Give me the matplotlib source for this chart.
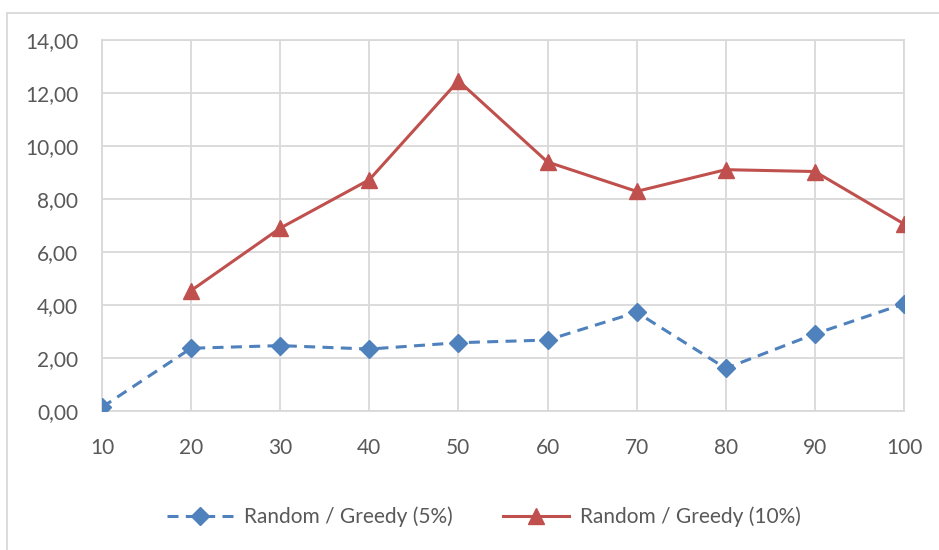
import matplotlib
matplotlib.use('Agg')
from matplotlib import pyplot as plt
from matplotlib.lines import Line2D

plt.rcParams['font.family'] = ['Lato', 'DejaVu Sans']

categories = ['10', '20', '30', '40', '50', '60', '70', '80', '90', '100']
greedy_5 = [0.13, 2.36, 2.46, 2.33, 2.57, 2.67, 3.72, 1.60, 2.90, 4.04]
greedy_10 = [None, 4.54, 6.90, 8.73, 12.47, 9.40, 8.29, 9.11, 9.04, 7.06]
y_ticks = [0, 2, 4, 6, 8, 10, 12, 14]

text_color = '#595959'
grid_color = '#d9d9d9'
blue = '#4f81bd'
red = '#c0504d'

fig = plt.figure(figsize=(9.39, 5.5), dpi=100)
ax = fig.add_axes([0.1086, 0.2533, 0.8541, 0.6734])

x = list(range(len(categories)))
ax.plot(x, greedy_5, color=blue, linestyle=(0, (3.6, 2.4)), linewidth=2.2,
        marker='D', markersize=9.5, label='Random / Greedy (5%)', zorder=3)
x10 = [i for i, v in zip(x, greedy_10) if v is not None]
y10 = [v for v in greedy_10 if v is not None]
ax.plot(x10, y10, color=red, linestyle='-', linewidth=2.2,
        marker='^', markersize=11.5, label='Random / Greedy (10%)', zorder=3)

ax.set_xlim(0, len(categories) - 1)
ax.set_ylim(0, 14)
ax.set_xticks(x)
ax.set_xticklabels(categories)
ax.set_yticks(y_ticks)
ax.yaxis.set_major_formatter(plt.FuncFormatter(lambda v, p: ('%.2f' % v).replace('.', ',')))

ax.grid(True, color=grid_color, linewidth=1.3)
ax.set_axisbelow(True)
for side in ['left', 'right', 'top', 'bottom']:
    ax.spines[side].set_color(grid_color)
    ax.spines[side].set_linewidth(1.3)
ax.tick_params(axis='both', length=0, labelsize=15, colors=text_color)
ax.tick_params(axis='x', pad=20)
ax.tick_params(axis='y', pad=17)

leg = fig.legend(loc='center', bbox_to_anchor=(0.515, 0.06), ncol=2, frameon=False,
                 fontsize=15, handlelength=3.2, columnspacing=2.4, handletextpad=0.5)
for t in leg.get_texts():
    t.set_color(text_color)

# chart area border (top and left edges visible)
fig.add_artist(Line2D([7 / 939, 1], [1 - 12.5 / 550, 1 - 12.5 / 550],
                      transform=fig.transFigure, color=grid_color, linewidth=1.3))
fig.add_artist(Line2D([7 / 939, 7 / 939], [0, 1 - 12.5 / 550],
                      transform=fig.transFigure, color=grid_color, linewidth=1.3))

fig.savefig('out.png', dpi=100)
